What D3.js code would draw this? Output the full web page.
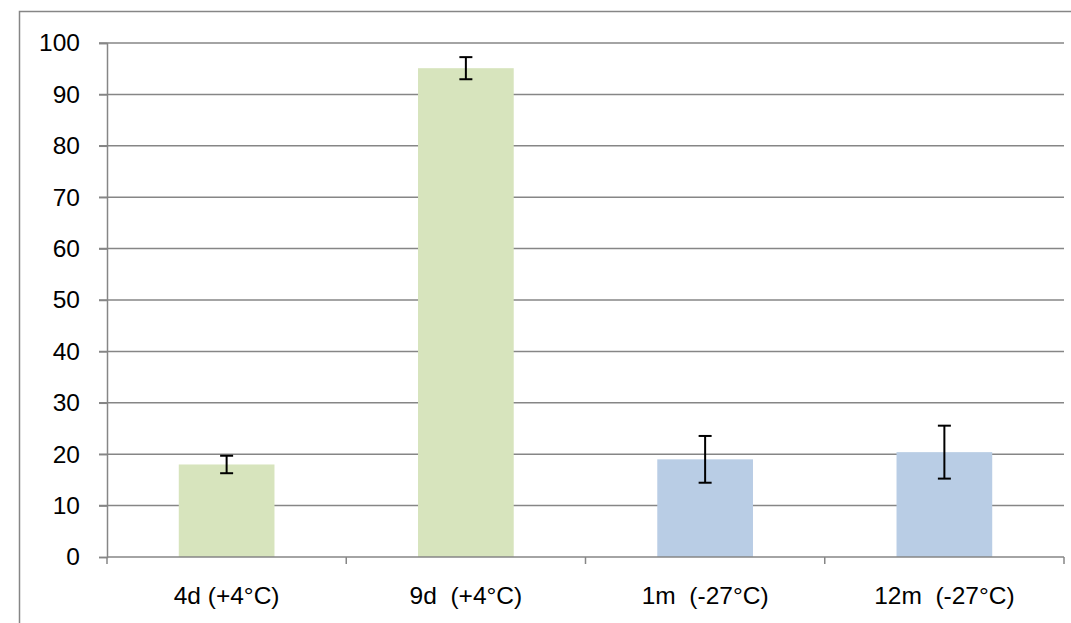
<!DOCTYPE html>
<html><head><meta charset="utf-8">
<script src="https://cdn.jsdelivr.net/npm/d3@7"></script>
<style>body{margin:0;background:#fff;} svg text{font-family:"Liberation Sans",Arial,sans-serif;}</style>
</head><body>
<svg id="c" width="1071" height="623"></svg>
<script>
const categories = ["4d (+4°C)", "9d  (+4°C)", "1m  (-27°C)", "12m  (-27°C)"];
const values = [18.0, 95.1, 19.0, 20.4];
const errors = [1.7, 2.15, 4.55, 5.15];
const barColors = ["#D7E4BD", "#D7E4BD", "#B9CDE5", "#B9CDE5"];
const yTicks = [0, 10, 20, 30, 40, 50, 60, 70, 80, 90, 100];

const svg = d3.select("#c");
const L = 107, R = 1064, T = 43, B = 557;

// outer frame
svg.append("path").attr("d", "M19.5,623 V11.5 H1071").attr("fill", "none").attr("stroke", "#868686").attr("stroke-width", 1.5);

const x = d3.scaleBand().domain(categories).range([L, R]).paddingInner(0.6).paddingOuter(0.3);
const xb = d3.scaleBand().domain(categories).range([L, R]);
const y = d3.scaleLinear().domain([0, 100]).range([B, T]);

// gridlines
svg.append("g").selectAll("line").data(yTicks.filter(d => d > 0)).join("line")
  .attr("x1", L - 8).attr("x2", R).attr("y1", d => y(d)).attr("y2", d => y(d))
  .attr("stroke", "#868686").attr("stroke-width", 1.5);

// bars
svg.append("g").selectAll("rect").data(values).join("rect")
  .attr("x", (d, i) => x(categories[i])).attr("width", x.bandwidth())
  .attr("y", d => y(d)).attr("height", d => B - y(d))
  .attr("fill", (d, i) => barColors[i]);

// y axis
const ya = svg.append("g").attr("transform", `translate(${L},0)`)
  .call(d3.axisLeft(y).tickValues(yTicks).tickSize(8).tickPadding(19));
ya.select(".domain").attr("stroke", "#868686").attr("stroke-width", 1.5);
ya.selectAll(".tick line").attr("stroke", "#868686").attr("stroke-width", 1.5);
ya.selectAll("text").attr("font-size", 24.5).attr("fill", "#000");

// x axis
const xa = svg.append("g").attr("transform", `translate(0,${B})`)
  .call(d3.axisBottom(xb).tickSize(0).tickPadding(30));
xa.select(".domain").remove();
xa.selectAll("text").attr("font-size", 24.5).attr("fill", "#000").style("white-space", "pre");
xa.append("line").attr("x1", L).attr("x2", R).attr("stroke", "#868686").attr("stroke-width", 1.5);
xa.selectAll(".sep").data([...categories.map(c => xb(c)), R]).join("line").attr("class", "sep")
  .attr("x1", d => d).attr("x2", d => d).attr("y1", 0).attr("y2", 7)
  .attr("stroke", "#868686").attr("stroke-width", 1.5);

// error bars
const eg = svg.append("g").attr("stroke", "#000").attr("stroke-width", 2);
values.forEach((v, i) => {
  const cx = x(categories[i]) + x.bandwidth() / 2;
  const e = errors[i];
  eg.append("line").attr("x1", cx).attr("x2", cx).attr("y1", y(v + e)).attr("y2", y(v - e));
  eg.append("line").attr("x1", cx - 6.5).attr("x2", cx + 6.5).attr("y1", y(v + e)).attr("y2", y(v + e));
  eg.append("line").attr("x1", cx - 6.5).attr("x2", cx + 6.5).attr("y1", y(v - e)).attr("y2", y(v - e));
});
</script>
</body></html>
